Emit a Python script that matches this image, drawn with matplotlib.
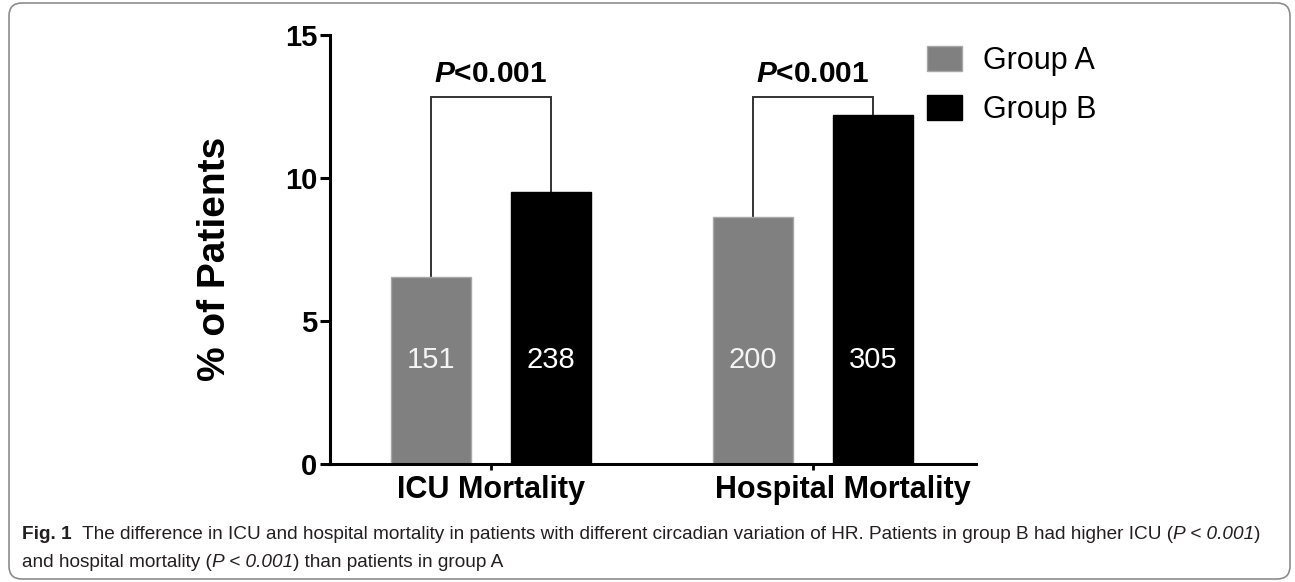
import matplotlib
matplotlib.use("Agg")
import matplotlib.pyplot as plt
from matplotlib.patches import FancyBboxPatch, Patch
from matplotlib.text import Annotation
from matplotlib.transforms import ScaledTranslation

# data
categories = ['ICU Mortality', 'Hospital Mortality']
groups = ['Group A', 'Group B']
group_a = [6.55, 8.65]
group_b = [9.5, 12.2]
counts_a = ['151', '200']
counts_b = ['238', '305']
p_text = r'$\mathbfit{P}$<0.001'
bracket_y = 12.85
count_y = 3.64
p_y = 13.36

colors = ['#808080', '#000000']

plt.rcParams['font.family'] = ['Liberation Sans', 'DejaVu Sans']
plt.rcParams['mathtext.fontset'] = 'custom'
plt.rcParams['mathtext.bfit'] = 'Liberation Sans:italic:bold'

fig = plt.figure(figsize=(12.95, 5.82), dpi=100)
ax = fig.add_axes([0.2548, 0.2027, 0.4988, 0.7371])

x = list(range(len(categories)))
off = 0.187
w = 0.247
xa = [i - off for i in x]
xb = [i + off for i in x]
ax.bar(xa, group_a, width=w, color=colors[0], edgecolor='#a8a8a8', linewidth=1, zorder=2)
ax.bar(xb, group_b, width=w, color=colors[1], edgecolor='black', linewidth=1, zorder=2)

for i in x:
    ax.text(xa[i], count_y, counts_a[i], ha='center', va='center', fontsize=21, color='#f4f4f4')
    ax.text(xb[i], count_y, counts_b[i], ha='center', va='center', fontsize=21, color='white')
    # significance bracket
    ax.plot([xa[i], xa[i], xb[i], xb[i]], [group_a[i], bracket_y, bracket_y, group_b[i]],
            color='#333333', lw=1.4, zorder=1, solid_joinstyle='miter')
    ax.text(i, p_y, p_text, ha='center', va='baseline', fontsize=21.5, fontweight='bold')

ax.set_xlim(-0.5, 1.506)
ax.set_ylim(0, 15)
ax.set_yticks([0, 5, 10, 15])
ax.set_xticks(x)
ax.set_xticklabels(categories, fontsize=22, fontweight='bold')
for lab in ax.get_yticklabels():
    lab.set_fontweight('bold')
ax.tick_params(axis='y', labelsize=21, length=7.2, width=2.2, pad=2)
ax.tick_params(axis='x', length=4.5, width=2, pad=3.5)
# the hospital label sits a bit right of its tick in the original
hl = ax.get_xticklabels()[1]
hl.set_transform(hl.get_transform() + ScaledTranslation(0.30, 0, fig.dpi_scale_trans))

for s in ['top', 'right']:
    ax.spines[s].set_visible(False)
for s in ['left', 'bottom']:
    ax.spines[s].set_linewidth(2.2)

ax.set_ylabel('% of Patients', fontsize=28, fontweight='bold')
ax.yaxis.set_label_coords(-0.150, 0.478)

handles = [Patch(facecolor=colors[0], edgecolor='#a8a8a8'), Patch(facecolor=colors[1], edgecolor='black')]
fig.legend(handles, groups, loc='upper left', bbox_to_anchor=(927 / 1295, 1 - 46 / 582),
           bbox_transform=fig.transFigure, frameon=False, fontsize=22,
           handlelength=1.14, handleheight=0.85, handletextpad=0.69,
           labelspacing=0.63, borderpad=0, borderaxespad=0)

# caption, built piece by piece so bold / italic parts can be mixed
cap_font = ['Liberation Sans', 'DejaVu Sans']
cap_color = '#231f20'
line1 = [('Fig. 1', 'bold', 'normal'),
         ('  The difference in ICU and hospital mortality in patients with different circadian '
          'variation of HR. Patients in group B had higher ICU (', 'normal', 'normal'),
         ('P < 0.001', 'normal', 'italic'),
         (')', 'normal', 'normal')]
line2 = [('and hospital mortality (', 'normal', 'normal'),
         ('P < 0.001', 'normal', 'italic'),
         (') than patients in group A', 'normal', 'normal')]


def caption_line(parts, x0, y0, size):
    prev = None
    for s, wt, st in parts:
        kw = dict(fontsize=size, fontweight=wt, fontstyle=st, family=cap_font, color=cap_color,
                  va='bottom', ha='left')
        if prev is None:
            prev = fig.text(x0, y0, s, **kw)
        else:
            prev = fig.add_artist(Annotation(s, xy=(1, 0), xycoords=prev, **kw))


caption_line(line1, 22 / 1295, 0.067, 13.7)
caption_line(line2, 22 / 1295, 0.019, 13.7)

frame = FancyBboxPatch((9 / 1295, 3 / 582), 1281 / 1295, 576 / 582,
                       boxstyle='round,pad=0,rounding_size=0.01', mutation_aspect=1295 / 582,
                       transform=fig.transFigure, facecolor='none', edgecolor='#8c8c8c', lw=1.2)
fig.add_artist(frame)

fig.savefig('out.png', dpi=100, facecolor='white')
